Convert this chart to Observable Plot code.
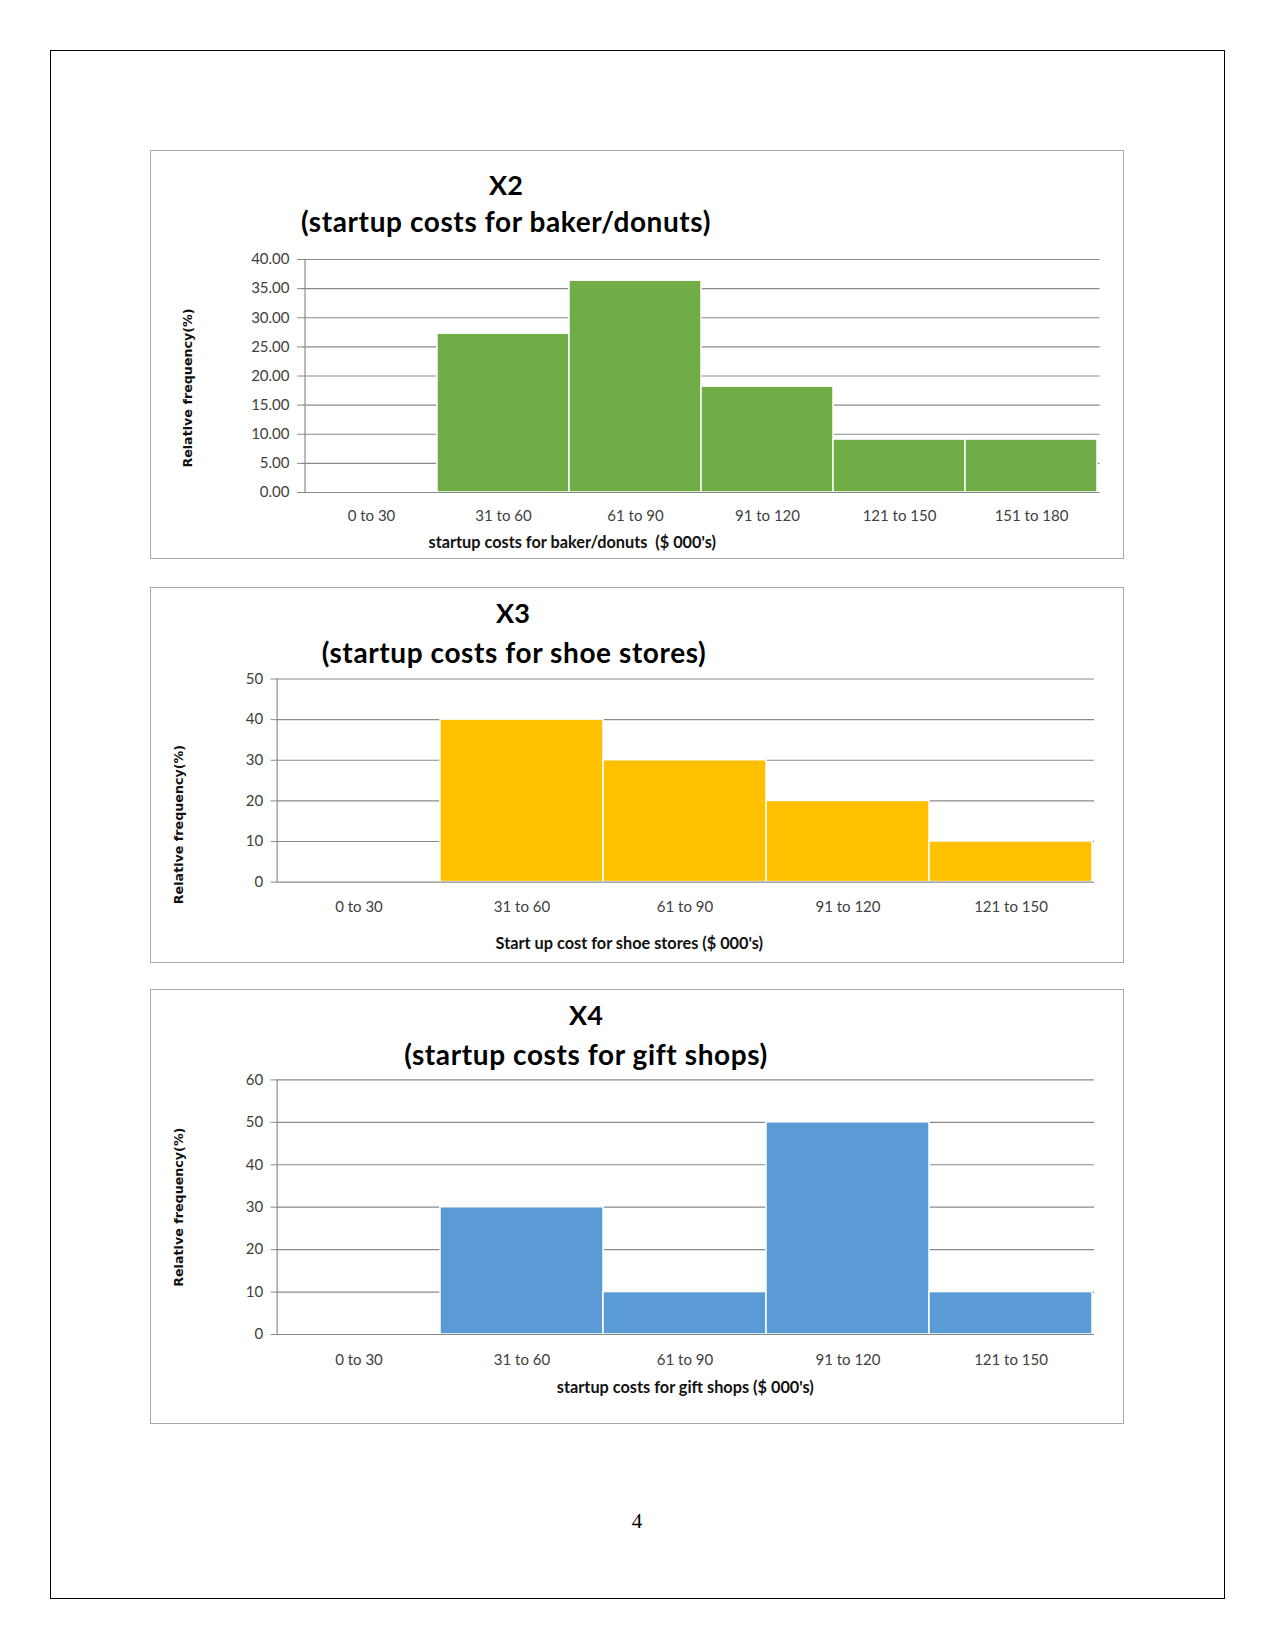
<!DOCTYPE html>
<html>
<head>
<meta charset="utf-8">
<script src="https://cdn.jsdelivr.net/npm/d3@7"></script>
<script src="https://cdn.jsdelivr.net/npm/@observablehq/plot@0.6"></script>
<style>
  html, body { margin: 0; padding: 0; background: #fff; }
  #page { position: relative; width: 1275px; height: 1650px; background: #fff; overflow: hidden; }
  .pageborder { position: absolute; left: 50px; top: 50px; width: 1173px; height: 1547px; border: 1.5px solid #000; }
  .box { position: absolute; border: 1px solid #a9a9a9; box-sizing: border-box; }
  .ttl { position: absolute; transform: translate(-50%, -50%); font-family: Lato, sans-serif; font-weight: bold; font-size: 27px; color: #000; white-space: nowrap; }
  .ttl.sub { font-size: 28px; letter-spacing: 0.6px; }
  .plotwrap { position: absolute; }
  .pnum { position: absolute; transform: translate(-50%, -50%); font-family: "Liberation Serif", serif; font-size: 21px; color: #000; }
</style>
</head>
<body>
<div id="page">
  <div class="pageborder"></div>
</div>
<script>
// ---- data ----
const catsX2 = ["0 to 30", "31 to 60", "61 to 90", "91 to 120", "121 to 150", "151 to 180"];
const valsX2 = [0, 27.27, 36.36, 18.18, 9.09, 9.09];
const catsX3 = ["0 to 30", "31 to 60", "61 to 90", "91 to 120", "121 to 150"];
const valsX3 = [0, 40, 30, 20, 10];
const catsX4 = ["0 to 30", "31 to 60", "61 to 90", "91 to 120", "121 to 150"];
const valsX4 = [0, 30, 10, 50, 10];
const titlesX2 = ["X2", "(startup costs for baker/donuts)"];
const titlesX3 = ["X3", "(startup costs for shoe stores)"];
const titlesX4 = ["X4", "(startup costs for gift shops)"];
const xTitleX2 = "startup costs for baker/donuts  ($ 000's)";
const xTitleX3 = "Start up cost for shoe stores ($ 000's)";
const xTitleX4 = "startup costs for gift shops ($ 000's)";
const yTitle = "Relative frequency(%)";
const yTicksX2 = [0, 5, 10, 15, 20, 25, 30, 35, 40];
const yTicksX3 = [0, 10, 20, 30, 40, 50];
const yTicksX4 = [0, 10, 20, 30, 40, 50, 60];
const pageNumber = "4";

const page = document.getElementById("page");

function addDiv(cls, css, text) {
  const d = document.createElement("div");
  d.className = cls;
  Object.assign(d.style, css);
  if (text != null) d.textContent = text;
  page.appendChild(d);
  return d;
}

function chart(cfg) {
  const {cats, vals, color, ticks, fmt, xTitle, titles, box, svg, m, xt, yt, t1, t2} = cfg;
  addDiv("box", {left: box[0] + "px", top: box[1] + "px", width: box[2] + "px", height: box[3] + "px"});
  addDiv("ttl", {left: t1[0] + "px", top: t1[1] + "px"}, titles[0]);
  addDiv("ttl sub", {left: t2[0] + "px", top: t2[1] + "px"}, titles[1]);
  const data = cats.map((c, i) => ({cat: c, v: vals[i]}));
  const bw = (svg[2] - m[3] - m[1]) / cats.length;
  const yMax = ticks[ticks.length - 1];
  const p = Plot.plot({
    width: svg[2], height: svg[3],
    marginTop: m[0], marginRight: m[1], marginBottom: m[2], marginLeft: m[3],
    style: {fontFamily: "Lato, sans-serif", fontSize: "15px", color: "#404040", background: "transparent", overflow: "visible"},
    x: {domain: cats, padding: 0, label: null, axis: null},
    y: {domain: [0, yMax], label: null, axis: null},
    marks: [
      Plot.ruleY(ticks.slice(1), {stroke: "#8a8a8a", strokeWidth: 1.2}),
      Plot.barY(data, {x: "cat", y: "v", fill: color, stroke: "#fff", strokeWidth: 1.5}),
      Plot.ruleY([0], {stroke: "#8a8a8a", strokeWidth: 1.2}),
      Plot.ruleX([cats[0]], {dx: -bw / 2, stroke: "#8a8a8a", strokeWidth: 1.2}),
      Plot.axisY({ticks, tickFormat: fmt, tickSize: 5, tickPadding: 8, stroke: "#8a8a8a", fill: "#404040", label: null}),
      Plot.axisX({tickSize: 0, tickPadding: xt[2], fill: "#404040", label: null}),
      Plot.text([xTitle], {frameAnchor: "bottom", dx: xt[0], dy: xt[1], fontWeight: "bold", fontSize: 16.3, fill: "#111"}),
      Plot.text([yTitle], {frameAnchor: "left", textAnchor: "middle", rotate: -90, dx: yt[0], dy: yt[1], fontWeight: "bold", fontSize: 12.7, fontFamily: "DejaVu Sans, sans-serif", fill: "#111"})
    ]
  });
  const w = document.createElement("div");
  w.className = "plotwrap";
  Object.assign(w.style, {left: svg[0] + "px", top: svg[1] + "px"});
  w.appendChild(p);
  page.appendChild(w);
}

chart({
  cats: catsX2, vals: valsX2, color: "#70ad47", ticks: yTicksX2, fmt: d => d.toFixed(2),
  xTitle: xTitleX2, titles: titlesX2,
  box: [150, 150, 974, 409], svg: [151, 240, 972, 316], m: [19, 23.5, 64, 151],
  xt: [-129, 55, 18], yt: [-115, 12], t1: [506, 184], t2: [506, 221]
});
chart({
  cats: catsX3, vals: valsX3, color: "#ffc000", ticks: yTicksX3, fmt: d => String(d),
  xTitle: xTitleX3, titles: titlesX3,
  box: [150, 587, 974, 376], svg: [151, 660, 972, 300], m: [18.5, 29, 78.4, 124.6],
  xt: [-56, 66.5, 19], yt: [-97, 44], t1: [513, 612], t2: [514, 652]
});
chart({
  cats: catsX4, vals: valsX4, color: "#5b9bd5", ticks: yTicksX4, fmt: d => String(d),
  xTitle: xTitleX4, titles: titlesX4,
  box: [150, 989, 974, 435], svg: [151, 1062, 972, 358], m: [17.4, 29, 86, 124.6],
  xt: [0, 58.5, 19.5], yt: [-97, 0], t1: [586, 1014], t2: [586, 1054]
});

addDiv("pnum", {left: "637px", top: "1521px"}, pageNumber);
</script>
</body>
</html>
